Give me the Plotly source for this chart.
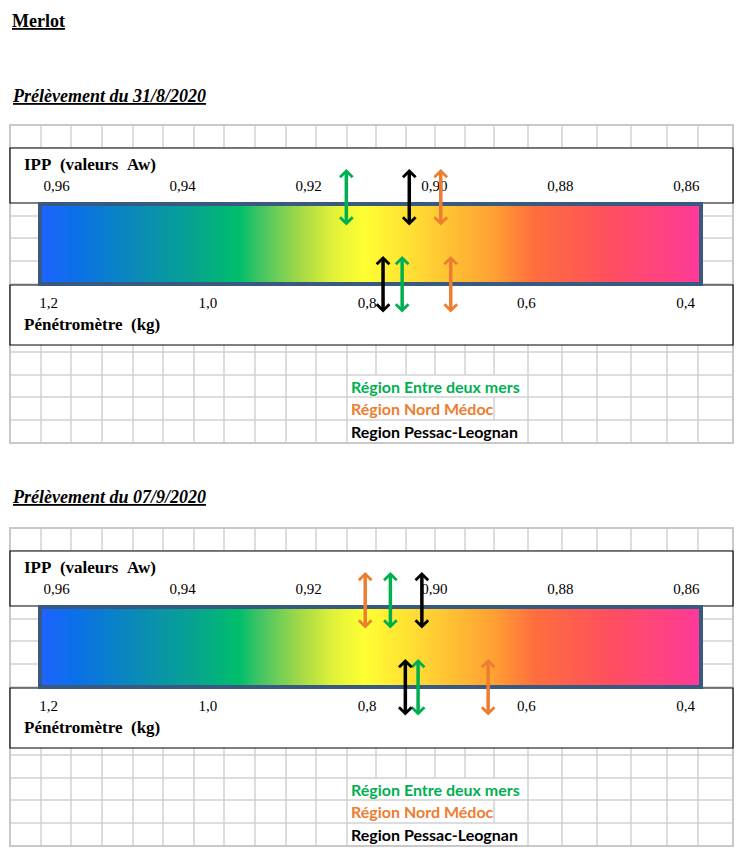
import numpy as np
import plotly.graph_objects as go

W, H = 743, 853
OFF = 8  # default page margin of the browser body

# ---------------- data ----------------
title = "Merlot"
sample_dates = ["31/8/2020", "07/9/2020"]
regions = ["Région Entre deux mers", "Région Nord Médoc", "Region Pessac-Leognan"]
region_colors = ["#00B050", "#ED7D31", "#000000"]

ipp_ticks = [0.96, 0.94, 0.92, 0.90, 0.88, 0.86]
ipp_tick_labels = ["0,96", "0,94", "0,92", "0,90", "0,88", "0,86"]
pen_ticks = [1.2, 1.0, 0.8, 0.6, 0.4]
pen_tick_labels = ["1,2", "1,0", "0,8", "0,6", "0,4"]

# IPP (Aw) and penetrometer (kg) values per region: [Entre deux mers, Nord Médoc, Pessac-Leognan]
ipp_31_8 = [0.914, 0.899, 0.904]
pen_31_8 = [0.756, 0.695, 0.780]
ipp_07_9 = [0.907, 0.911, 0.902]
pen_07_9 = [0.736, 0.648, 0.752]

ipp_values = [ipp_31_8, ipp_07_9]
pen_values = [pen_31_8, pen_07_9]

# colour gradient of the maturity bar
gradient = [
    [0.00, "#1E64FF"], [0.05, "#0A70E8"], [0.14, "#0A8AB8"], [0.22, "#07A096"],
    [0.30, "#00BE6A"], [0.33, "#40C465"], [0.39, "#A0D848"], [0.44, "#DFF038"],
    [0.49, "#FFFF33"], [0.56, "#FFE033"], [0.64, "#FFB833"], [0.69, "#FF9F33"],
    [0.75, "#FF6E3E"], [0.87, "#FF4E60"], [1.00, "#FF3A98"],
]

# ---------------- layout geometry (pixels) ----------------
cols = [10, 41, 71, 102, 133, 163, 194, 224, 255, 286, 316, 347, 376, 406,
        435, 465, 494, 528, 562, 597, 631, 667, 698, 733]
rows_rel = [0, 23, 45, 68, 91, 113, 136, 159, 181, 204, 227, 250, 272, 295, 318]
panel_tops = [125, 528]
title_ys = [96, 497]
legend_rows = [11, 12, 13]              # row index where legend lines sit
legend_end = [528, 494, 528]            # cell where the overflowing text ends

SERIF = "Liberation Serif"
GRID = "#D2D2D2"

fig = go.Figure()
shapes = []
annotations = []

annotations.append(dict(x=10, y=OFF + 0.5, xref="x", yref="y", xanchor="left", yanchor="top",
                        text="<b><u>" + title + "</u></b>", showarrow=False,
                        font=dict(family=SERIF, size=18, color="black")))

for p, top in enumerate(panel_tops):
    # grid path
    segs = []
    for r in rows_rel:
        segs.append(f"M{cols[0]},{top + r} L{cols[-1]},{top + r}")
    for i in range(len(rows_rel) - 1):
        y0, y1 = top + rows_rel[i], top + rows_rel[i + 1]
        for c in cols:
            if i in legend_rows:
                k = legend_rows.index(i)
                if cols[11] < c < legend_end[k]:
                    continue
            segs.append(f"M{c},{y0} L{c},{y1}")
    shapes.append(dict(type="path", path=" ".join(segs), xref="x", yref="y",
                       line=dict(color=GRID, width=1.5), layer="below"))
    shapes.append(dict(type="rect", x0=cols[0], x1=cols[-1], y0=top, y1=top + rows_rel[-1],
                       xref="x", yref="y", line=dict(color="#C8C8C8", width=2), layer="below"))
    # white boxes
    shapes.append(dict(type="rect", x0=10, x1=733, y0=top + 23, y1=top + 78, xref="x", yref="y",
                       fillcolor="white", line=dict(color="black", width=1.2), layer="below"))
    shapes.append(dict(type="rect", x0=10, x1=733, y0=top + 160, y1=top + 220, xref="x", yref="y",
                       fillcolor="white", line=dict(color="black", width=1.2), layer="below"))
    # gradient bar
    N = 330
    fig.add_trace(go.Heatmap(z=[np.linspace(0, 1, N)], x=np.linspace(42, 699, N + 1),
                             y=[top + 81, top + 157], colorscale=gradient, zmin=0, zmax=1,
                             showscale=False, hoverinfo="skip", xaxis="x", yaxis="y"))
    shapes.append(dict(type="rect", x0=40, x1=701, y0=top + 79, y1=top + 159, xref="x", yref="y",
                       line=dict(color="#385A80", width=4), layer="above"))
    # tick labels on the two scales
    fig.add_trace(go.Scatter(x=ipp_ticks, y=[top + 62] * len(ipp_ticks), mode="text",
                             text=ipp_tick_labels, xaxis="x2", yaxis="y", hoverinfo="skip",
                             textfont=dict(family=SERIF, size=15, color="black"), showlegend=False))
    fig.add_trace(go.Scatter(x=pen_ticks, y=[top + 179] * len(pen_ticks), mode="text",
                             text=pen_tick_labels, xaxis="x3", yaxis="y", hoverinfo="skip",
                             textfont=dict(family=SERIF, size=15, color="black"), showlegend=False))
    # texts
    annotations.append(dict(x=10, y=title_ys[p], xref="x", yref="y", xanchor="left", yanchor="middle",
                            text="<b><i><u>Prélèvement du " + sample_dates[p] + "</u></i></b>",
                            showarrow=False, font=dict(family=SERIF, size=18, color="black")))
    annotations.append(dict(x=22, y=top + 39, xref="x", yref="y", xanchor="left", yanchor="middle",
                            text="<b>IPP\u00a0\u00a0(valeurs\u00a0\u00a0Aw)</b>", showarrow=False,
                            font=dict(family=SERIF, size=17, color="black")))
    annotations.append(dict(x=22, y=top + 199, xref="x", yref="y", xanchor="left", yanchor="middle",
                            text="<b>Pénétromètre\u00a0\u00a0(kg)</b>", showarrow=False,
                            font=dict(family=SERIF, size=17, color="black")))
    for k, (reg, col) in enumerate(zip(regions, region_colors)):
        yr = top + (rows_rel[legend_rows[k]] + rows_rel[legend_rows[k] + 1]) / 2
        annotations.append(dict(x=349, y=yr, xref="x", yref="y", xanchor="left", yanchor="middle",
                                text="<b>" + reg + "</b>", showarrow=False,
                                font=dict(family="Lato", size=16, color=col)))
    # arrows
    for k, col in enumerate(region_colors):
        v = ipp_values[p][k]
        annotations.append(dict(x=v, y=top + 44, ax=v, ay=top + 102, xref="x2", yref="y",
                                axref="x2", ayref="y", text="", showarrow=True,
                                arrowside="end+start", arrowhead=4, startarrowhead=4,
                                arrowsize=0.7, startarrowsize=0.7, arrowwidth=3.5,
                                arrowcolor=col, standoff=0, startstandoff=0))
        v = pen_values[p][k]
        annotations.append(dict(x=v, y=top + 131, ax=v, ay=top + 189, xref="x3", yref="y",
                                axref="x3", ayref="y", text="", showarrow=True,
                                arrowside="end+start", arrowhead=4, startarrowhead=4,
                                arrowsize=0.7, startarrowsize=0.7, arrowwidth=3.5,
                                arrowcolor=col, standoff=0, startstandoff=0))

fig.update_layout(
    width=W - OFF, height=H - OFF, autosize=False,
    margin=dict(l=0, r=0, t=0, b=0),
    paper_bgcolor="white", plot_bgcolor="white",
    showlegend=False,
    xaxis=dict(range=[OFF, W], visible=False, fixedrange=True),
    yaxis=dict(range=[H, OFF], visible=False, fixedrange=True),
    xaxis2=dict(range=[0.96773, 0.851], overlaying="x", anchor="y", visible=False),
    xaxis3=dict(range=[1.25095, 0.328], overlaying="x", anchor="y", visible=False),
    shapes=shapes,
    annotations=annotations,
)

fig.write_html("out.html")
